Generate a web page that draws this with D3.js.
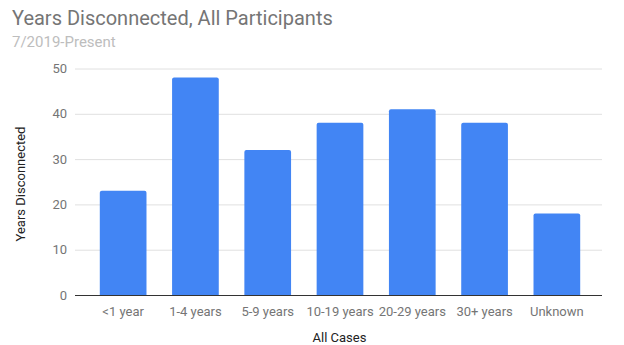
<!DOCTYPE html>
<html>
<head>
<meta charset="utf-8">
<script src="https://cdn.jsdelivr.net/npm/d3@7"></script>
<style>
  html, body { margin: 0; padding: 0; background: #fff; }
  svg { display: block; font-family: Roboto, Arial, sans-serif; }
</style>
</head>
<body>
<svg id="chart" width="624" height="345"></svg>
<script>
// Years disconnected per group, all participants since 7/2019
const categories = ["<1 year", "1-4 years", "5-9 years", "10-19 years", "20-29 years", "30+ years", "Unknown"];
const values = [23, 48, 32, 38, 41, 38, 18];
const yTicks = [0, 10, 20, 30, 40, 50];

const svg = d3.select("#chart");

const plot = { left: 75, right: 602, top: 68.5, bottom: 295 };

const x = d3.scaleBand()
  .domain(categories)
  .range([87, 593])
  .paddingInner(0.354)
  .paddingOuter(0.177);

const y = d3.scaleLinear()
  .domain([0, 50])
  .range([plot.bottom, plot.top]);

// Title and subtitle
svg.append("text")
  .attr("x", 12).attr("y", 25)
  .attr("font-size", 20).attr("fill", "#757575")
  .text("Years Disconnected, All Participants");
svg.append("text")
  .attr("x", 12).attr("y", 47)
  .attr("font-size", 15).attr("fill", "#bdbdbd")
  .text("7/2019-Present");

// Horizontal gridlines
const yAxis = d3.axisLeft(y).tickValues(yTicks).tickSize(-(plot.right - plot.left)).tickPadding(8);
const gy = svg.append("g").attr("transform", `translate(${plot.left},0)`).call(yAxis);
gy.select(".domain").remove();
gy.selectAll(".tick line").attr("stroke", "#e0e0e0").attr("stroke-width", 1);
gy.selectAll(".tick text")
  .attr("font-size", 13).attr("fill", "#757575")
  .attr("font-family", "Roboto, Arial, sans-serif");

// Bars
svg.append("g").selectAll("path")
  .data(categories.map((c, i) => ({ c, v: values[i] })))
  .join("path")
  .attr("fill", "#4285f4")
  .attr("d", d => {
    const x0 = x(d.c), w = x.bandwidth(), y0 = y(d.v), y1 = y(0), r = 2;
    return `M${x0},${y1}V${y0 + r}Q${x0},${y0} ${x0 + r},${y0}H${x0 + w - r}Q${x0 + w},${y0} ${x0 + w},${y0 + r}V${y1}Z`;
  });

// Baseline and category labels
const xAxis = d3.axisBottom(x).tickSize(0).tickPadding(12);
const gx = svg.append("g").attr("transform", `translate(0,${plot.bottom})`).call(xAxis);
gx.select(".domain").remove();
gx.selectAll(".tick text")
  .attr("font-size", 13).attr("fill", "#757575")
  .attr("font-family", "Roboto, Arial, sans-serif");
svg.append("line")
  .attr("x1", plot.left).attr("x2", plot.right)
  .attr("y1", plot.bottom + 0.5).attr("y2", plot.bottom + 0.5)
  .attr("stroke", "#333").attr("stroke-width", 1);

// Axis titles
svg.append("text")
  .attr("x", (plot.left + plot.right) / 2 + 1).attr("y", 342)
  .attr("text-anchor", "middle")
  .attr("font-size", 13).attr("fill", "#222")
  .text("All Cases");
svg.append("text")
  .attr("transform", `translate(25,${184}) rotate(-90)`)
  .attr("text-anchor", "middle")
  .attr("font-size", 13).attr("fill", "#222")
  .text("Years Disconnected");
</script>
</body>
</html>
